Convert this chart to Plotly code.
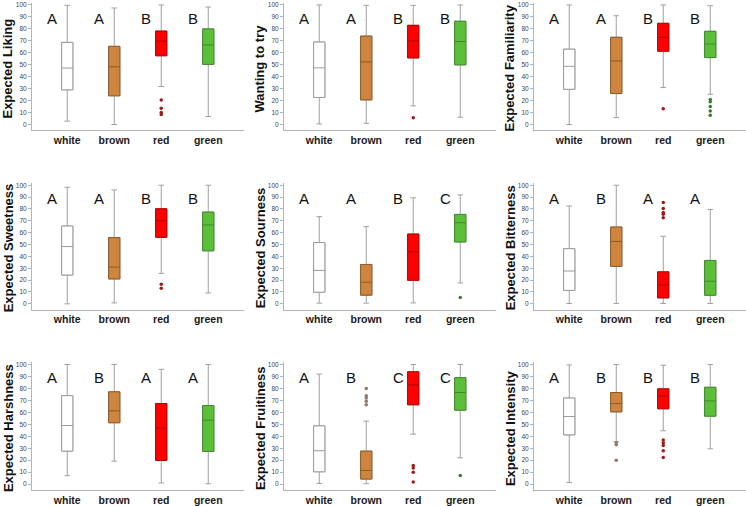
import plotly.graph_objects as go

W, H = 746, 506
FONT = "Liberation Sans, Arial, sans-serif"

categories = ["white", "brown", "red", "green"]

# five-number summaries per category: [lower whisker, Q1, median, Q3, upper whisker]
liking_stats = [[2.8, 29, 47.2, 68.7, 99.7], [0, 24, 48.3, 65.4, 97.5],
                [31.8, 57.5, 69.8, 78.2, 100], [6.7, 50.3, 66.5, 80, 98.3]]
liking_outliers = [[], [], [20.4, 13.7, 10, 8.4], []]
liking_letters = ["A", "A", "B", "B"]

wanting_stats = [[0.5, 22.6, 47.4, 69, 100], [1, 20.6, 52.4, 74, 99.7],
                 [15.6, 55.7, 70, 83, 99.7], [6.1, 49.9, 69.4, 86.4, 100]]
wanting_outliers = [[], [], [5.6], []]
wanting_letters = ["A", "A", "B", "B"]

familiarity_stats = [[0, 29.5, 48.7, 63, 100], [5.8, 25.9, 53.2, 73, 91],
                     [30.9, 61.3, 73, 84.7, 100], [25.3, 56, 67.4, 78, 99.4]]
familiarity_outliers = [[], [], [13.1], [21, 19, 15, 11.4, 7.8]]
familiarity_letters = ["A", "A", "B", "B"]

sweetness_stats = [[0, 24.3, 48.3, 65.6, 98.3], [0.8, 21, 31, 55.9, 96],
                   [25.7, 56.1, 70.1, 80.2, 100], [9.2, 44.7, 66.5, 77.4, 100]]
sweetness_outliers = [[], [], [16.5, 13.1], []]
sweetness_letters = ["A", "A", "B", "B"]

sourness_stats = [[0.6, 9.8, 28.2, 51.7, 73.5], [0.6, 7.3, 18.2, 33.2, 65.1],
                  [0.8, 19.8, 43.9, 58.9, 89.4], [17.6, 52.2, 68.4, 75.4, 91.9]]
sourness_outliers = [[], [], [], [5.3]]
sourness_letters = ["A", "A", "B", "C"]

bitterness_stats = [[0.3, 11.4, 27.7, 46.5, 82.5], [0.3, 31.6, 52.6, 64.8, 100],
                    [0.3, 5, 16, 27, 57], [0.3, 7.2, 19.1, 36.6, 79.5]]
bitterness_outliers = [[], [], [85.5, 80.5, 77, 75.5, 72.5], []]
bitterness_letters = ["A", "B", "A", "A"]

harshness_stats = [[7, 27.6, 49, 74, 100], [19.2, 51.3, 61.3, 77.2, 100],
                   [1, 19.8, 46.8, 67.4, 96], [0.3, 27.3, 53.5, 65.7, 100]]
harshness_outliers = [[], [], [], []]
harshness_letters = ["A", "B", "A", "A"]

fruitiness_stats = [[0.6, 10.3, 27.9, 48.7, 92], [0.3, 4.2, 11.4, 27.6, 52.6],
                    [41.8, 66.3, 83, 94, 100], [22, 61.8, 76.6, 89, 100]]
fruitiness_outliers = [[], [80, 74, 72, 69.4, 66.3], [15.6, 13.4, 10, 1.7], [7.2]]
fruitiness_letters = ["A", "B", "C", "C"]

intensity_stats = [[1.4, 41.2, 56.5, 72, 99.7], [35.6, 60.4, 67.4, 76.6, 100],
                   [44.6, 63, 73.8, 79.7, 99.4], [29.5, 56.8, 69.6, 81, 100]]
intensity_outliers = [[], [34.5, 33, 20], [36.8, 34.5, 32.3, 27.9, 22.3], []]
intensity_letters = ["A", "B", "B", "B"]

titles = ["Expected Liking", "Wanting to try", "Expected Familiarity",
          "Expected Sweetness", "Expected Sourness", "Expected Bitterness",
          "Expected Harshness", "Expected Fruitiness", "Expected Intensity"]
tick_values = [0, 10, 20, 30, 40, 50, 60, 70, 80, 90, 100]

panels = [
    (titles[0], liking_stats, liking_outliers, liking_letters),
    (titles[1], wanting_stats, wanting_outliers, wanting_letters),
    (titles[2], familiarity_stats, familiarity_outliers, familiarity_letters),
    (titles[3], sweetness_stats, sweetness_outliers, sweetness_letters),
    (titles[4], sourness_stats, sourness_outliers, sourness_letters),
    (titles[5], bitterness_stats, bitterness_outliers, bitterness_letters),
    (titles[6], harshness_stats, harshness_outliers, harshness_letters),
    (titles[7], fruitiness_stats, fruitiness_outliers, fruitiness_letters),
    (titles[8], intensity_stats, intensity_outliers, intensity_letters),
]

fills = ["#FFFFFF", "#CD853F", "#FF0000", "#5CBF3A"]
edges = ["#9A9A9A", "#8E5A26", "#B00000", "#3F8A2A"]
outlier_colors = ["#888888", "#8E7A66", "#9B1B1B", "#3C7A2A"]
WHISK = "#A0A0A0"
AXC = "#B4B4B4"

col_x0 = [32, 284, 534]
plot_w = 211.5
row_top = [1.6, 182.6, 362.6]
row_bot = [130, 310, 491]

fig = go.Figure()
annotations = []
layout = {}

for i, (title, stats, outs, letters) in enumerate(panels):
    r, c = divmod(i, 3)
    suf = "" if i == 0 else str(i + 1)
    xr, yr = "x" + suf, "y" + suf
    for j, cat in enumerate(categories):
        lo, q1, med, q3, hi = stats[j]
        fig.add_trace(go.Box(
            x=[cat], q1=[q1], median=[med], q3=[q3], lowerfence=[lo], upperfence=[hi],
            width=0.24, whiskerwidth=0.5, fillcolor="rgba(0,0,0,0)",
            line=dict(color=WHISK, width=1), xaxis=xr, yaxis=yr,
            showlegend=False, hoverinfo="skip"))
        fig.add_trace(go.Box(
            x=[cat], q1=[q1], median=[med], q3=[q3], lowerfence=[q1], upperfence=[q3],
            width=0.24, whiskerwidth=0, fillcolor=fills[j],
            line=dict(color=edges[j], width=1), xaxis=xr, yaxis=yr,
            showlegend=False, hoverinfo="skip"))
        if outs[j]:
            fig.add_trace(go.Scatter(
                x=[cat] * len(outs[j]), y=outs[j], mode="markers",
                marker=dict(size=3.5, color=outlier_colors[j]),
                xaxis=xr, yaxis=yr, showlegend=False, hoverinfo="skip"))
        annotations.append(dict(
            x=j - 0.32, y=89, xref=xr, yref=yr, text=letters[j], showarrow=False,
            font=dict(family=FONT, size=15, color="#111111"),
            xanchor="center", yanchor="middle"))
    x0 = col_x0[c]
    layout["xaxis" + suf] = dict(
        domain=[x0 / W, (x0 + plot_w) / W], anchor=yr, type="category",
        categoryorder="array", categoryarray=categories, range=[-0.75, 3.75],
        showline=True, linecolor=AXC, linewidth=1, ticks="", showgrid=False,
        zeroline=False, tickfont=dict(family=FONT, size=10.5, color="#1A1A1A", weight="bold"))
    layout["yaxis" + suf] = dict(
        domain=[1 - row_bot[r] / H, 1 - row_top[r] / H], anchor=xr, range=[-5, 102],
        tickvals=tick_values, showline=True, linecolor=AXC, linewidth=1,
        ticks="outside", ticklen=3, tickcolor=AXC, showgrid=False, zeroline=False,
        tickfont=dict(family=FONT, size=6.5, color="#444444"))
    annotations.append(dict(
        x=(x0 - 24) / W, y=1 - ((row_top[r] + row_bot[r]) / 2 + 2) / H,
        xref="paper", yref="paper", text="<b>" + title + "</b>", textangle=-90,
        showarrow=False, xanchor="center", yanchor="middle",
        font=dict(family=FONT, size=13, color="#111111")))

fig.update_layout(
    width=W, height=H, margin=dict(l=0, r=0, t=0, b=0),
    paper_bgcolor="white", plot_bgcolor="white", boxmode="overlay",
    annotations=annotations, **layout)

fig.write_html("out.html")
